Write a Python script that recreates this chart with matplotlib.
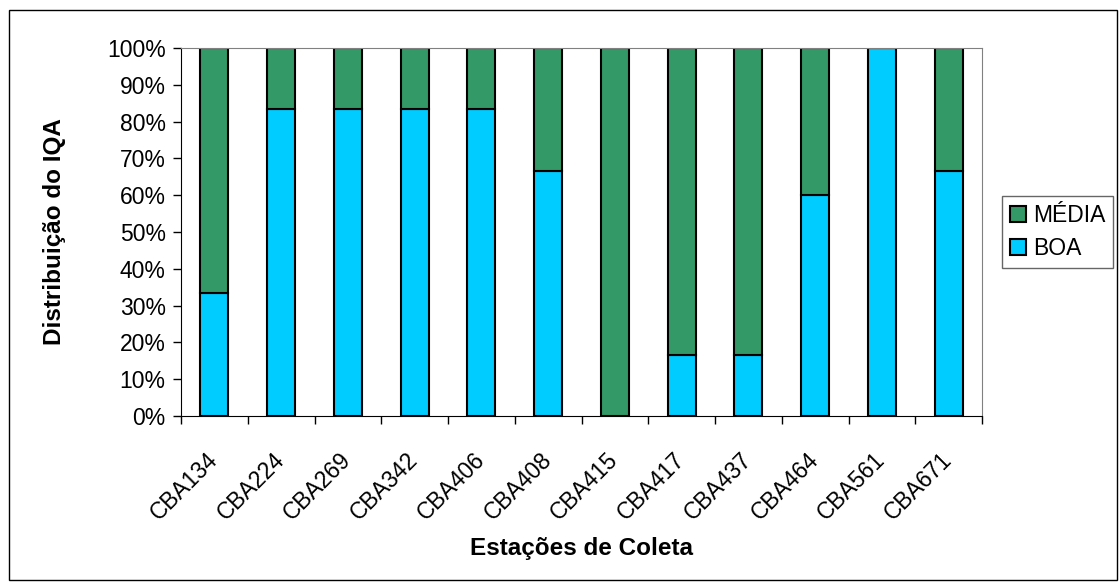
import matplotlib
matplotlib.use("Agg")
import numpy as np
from matplotlib import pyplot as plt, patches, transforms

plt.rcParams['font.family'] = ['Liberation Sans', 'DejaVu Sans']

# Data
stations = ['CBA134', 'CBA224', 'CBA269', 'CBA342', 'CBA406', 'CBA408',
            'CBA415', 'CBA417', 'CBA437', 'CBA464', 'CBA561', 'CBA671']
boa = [33.3, 83.3, 83.3, 83.3, 83.3, 66.7, 0.0, 16.7, 16.7, 60.0, 100.0, 66.7]
media = [66.7, 16.7, 16.7, 16.7, 16.7, 33.3, 100.0, 83.3, 83.3, 40.0, 0.0, 33.3]

color_boa = '#00CCFF'
color_media = '#339966'

W, H = 1119, 583
fig = plt.figure(figsize=(W / 100, H / 100), dpi=100)
ax = fig.add_axes([181 / W, 1 - 416 / H, (982 - 181) / W, (416 - 48) / H])

x = np.arange(len(stations))
bar_w = 0.42
ax.bar(x, boa, bar_w, color=color_boa, edgecolor='black', linewidth=1.5, label='BOA')
ax.bar(x, media, bar_w, bottom=boa, color=color_media, edgecolor='black', linewidth=1.5, label='MÉDIA')

ax.set_xlim(-0.5, len(stations) - 0.5)
ax.set_ylim(0, 100)
ax.set_yticks(np.arange(0, 101, 10))
ax.set_yticklabels([f'{v}%' for v in range(0, 101, 10)], fontsize=16.5)

# ticks at category boundaries, labels at centres
ax.set_xticks(np.arange(-0.5, len(stations), 1.0))
ax.set_xticklabels([])
ax.set_xticks(x, minor=True)
ax.set_xticklabels(stations, minor=True, rotation=45, ha='right', va='center',
                   rotation_mode='anchor', fontsize=16.5)
shift = transforms.ScaledTranslation(-4 / 100, 0, fig.dpi_scale_trans)
for lbl in ax.get_xticklabels(minor=True):
    lbl.set_transform(lbl.get_transform() + shift)
ax.tick_params(axis='x', which='minor', length=0, pad=29)
ax.tick_params(axis='x', which='major', length=6, width=1, direction='out')
ax.tick_params(axis='y', length=6, width=1, direction='out', pad=5)

for side in ['top', 'right']:
    ax.spines[side].set_color('#808080')
for side in ['left', 'bottom']:
    ax.spines[side].set_color('black')

fig.text(54 / W, 1 - 232 / H, 'Distribuição do IQA', rotation=90, fontsize=17.5,
         fontweight='bold', ha='center', va='center')
fig.text(582 / W, 1 - 548 / H, 'Estações de Coleta', fontsize=17.5,
         fontweight='bold', ha='center', va='center')

handles, labels = ax.get_legend_handles_labels()
leg = fig.legend(handles[::-1], labels[::-1], loc='center left',
                 bbox_to_anchor=(1002 / W, 1 - 232 / H), fontsize=16.5,
                 frameon=True, fancybox=False, edgecolor='#404040',
                 handlelength=0.7, handleheight=0.7, handletextpad=0.3,
                 borderpad=0.35, labelspacing=0.45, borderaxespad=0)
leg.get_frame().set_linewidth(1.0)

# outer chart frame
frame = patches.Rectangle((9 / W, 1 - 580 / H), 1108 / W, 570 / H,
                          transform=fig.transFigure, fill=False,
                          edgecolor='black', linewidth=1.0)
fig.patches.append(frame)

fig.savefig('out.png', dpi=100)
